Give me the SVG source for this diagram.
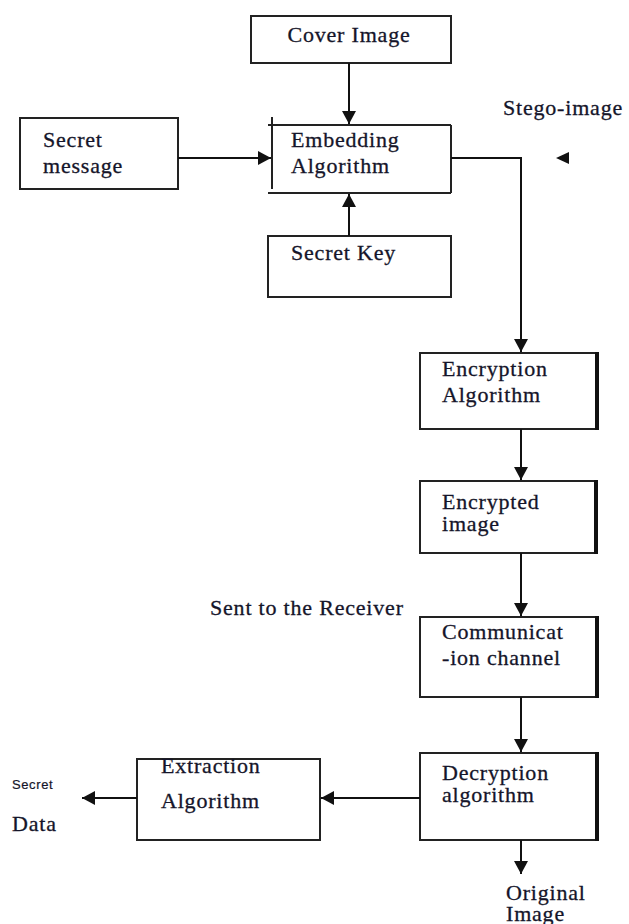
<svg xmlns="http://www.w3.org/2000/svg" width="629" height="924" viewBox="0 0 629 924">
  <style>
    .box { fill: none; stroke: #222; stroke-width: 2; }
    .edge { stroke: #111; stroke-width: 4; }
    .lbl { font-family: "Liberation Serif", "Times New Roman", serif; font-size: 22px; letter-spacing: 0.8px; fill: #15152a; stroke: #15152a; stroke-width: 0.3; }
    .small { font-family: "Liberation Sans", Arial, sans-serif; font-size: 13px; letter-spacing: 0.6px; fill: #15152a; stroke: #15152a; stroke-width: 0.2; }
    .conn { fill: none; stroke: #111; stroke-width: 2; }
  </style>
  <defs>
    <marker id="arrow" markerUnits="userSpaceOnUse" markerWidth="14" markerHeight="14" refX="13" refY="7" orient="auto">
      <path d="M0,0 L13,7 L0,14 z" fill="#111"/>
    </marker>
  </defs>
  <rect width="629" height="924" fill="#fff"/>

  <g id="cover-image">
    <rect class="box" x="251" y="16" width="200" height="47"/>
    <text class="lbl" x="349" y="42" text-anchor="middle">Cover Image</text>
  </g>

  <g id="secret-message">
    <rect class="box" x="20" y="118" width="158" height="71"/>
    <text class="lbl" x="43" y="147">Secret</text>
    <text class="lbl" x="43" y="173">message</text>
  </g>

  <g id="embedding-algorithm">
    <line class="box" x1="268" y1="125" x2="451" y2="125"/>
    <line class="box" x1="272" y1="117" x2="272" y2="189"/>
    <line class="box" x1="451" y1="125" x2="451" y2="193"/>
    <line class="box" x1="268" y1="193" x2="451" y2="193"/>
    <text class="lbl" x="291" y="147">Embedding</text>
    <text class="lbl" x="291" y="173">Algorithm</text>
  </g>

  <g id="secret-key">
    <rect class="box" x="268" y="236" width="183" height="61"/>
    <text class="lbl" x="291" y="260">Secret Key</text>
  </g>

  <g id="stego-image">
    <text class="lbl" x="503" y="115">Stego-image</text>
    <polygon points="556,158 569,152 569,164" fill="#111"/>
  </g>

  <g id="encryption-algorithm">
    <rect class="box" x="420" y="353" width="177" height="76"/>
    <line class="edge" x1="597" y1="352" x2="597" y2="430"/>
    <text class="lbl" x="442" y="376">Encryption</text>
    <text class="lbl" x="442" y="402">Algorithm</text>
  </g>

  <g id="encrypted-image">
    <rect class="box" x="420" y="481" width="176" height="72"/>
    <line class="edge" x1="596" y1="480" x2="596" y2="554"/>
    <text class="lbl" x="442" y="509">Encrypted</text>
    <text class="lbl" x="442" y="531">image</text>
  </g>

  <g id="sent-label">
    <text class="lbl" x="210" y="615">Sent to the Receiver</text>
  </g>

  <g id="communication-channel">
    <rect class="box" x="420" y="617" width="177" height="80"/>
    <line class="edge" x1="597" y1="616" x2="597" y2="698"/>
    <text class="lbl" x="442" y="639">Communicat</text>
    <text class="lbl" x="442" y="665">-ion channel</text>
  </g>

  <g id="decryption-algorithm">
    <rect class="box" x="420" y="753" width="177" height="87"/>
    <line class="edge" x1="597" y1="752" x2="597" y2="841"/>
    <text class="lbl" x="442" y="780">Decryption</text>
    <text class="lbl" x="442" y="802">algorithm</text>
  </g>

  <g id="extraction-algorithm">
    <rect class="box" x="137" y="759" width="183" height="81"/>
    <text class="lbl" x="161" y="773">Extraction</text>
    <text class="lbl" x="161" y="808">Algorithm</text>
  </g>

  <g id="secret-data">
    <text class="small" x="12" y="789">Secret</text>
    <text class="lbl" x="12" y="831">Data</text>
  </g>

  <g id="original-image">
    <text class="lbl" x="506" y="900">Original</text>
    <text class="lbl" x="506" y="921">Image</text>
  </g>

  <g id="connectors">
    <line class="conn" x1="349" y1="63" x2="349" y2="124" marker-end="url(#arrow)"/>
    <line class="conn" x1="178" y1="158" x2="271" y2="158" marker-end="url(#arrow)"/>
    <line class="conn" x1="349" y1="236" x2="349" y2="194" marker-end="url(#arrow)"/>
    <path class="conn" d="M451,158 H521 V352" marker-end="url(#arrow)"/>
    <line class="conn" x1="521" y1="429" x2="521" y2="480" marker-end="url(#arrow)"/>
    <line class="conn" x1="521" y1="553" x2="521" y2="616" marker-end="url(#arrow)"/>
    <line class="conn" x1="521" y1="697" x2="521" y2="752" marker-end="url(#arrow)"/>
    <line class="conn" x1="521" y1="840" x2="521" y2="874" marker-end="url(#arrow)"/>
    <line class="conn" x1="420" y1="798" x2="321" y2="798" marker-end="url(#arrow)"/>
    <line class="conn" x1="137" y1="798" x2="82" y2="798" marker-end="url(#arrow)"/>
  </g>
</svg>
